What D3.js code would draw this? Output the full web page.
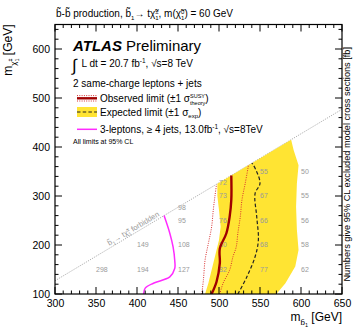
<!DOCTYPE html>
<html><head><meta charset="utf-8">
<script src="https://cdn.jsdelivr.net/npm/d3@7"></script>
<style>
body{margin:0;background:#fff}
svg{display:block}
text{font-family:"Liberation Sans",Arial,Helvetica,sans-serif;white-space:pre}
</style>
</head><body>
<svg id="chart" width="354" height="329"></svg>
<script>
// Axis ranges and ticks (GeV)
const xDomain = [300, 650];
const yDomain = [100, 650];
const xMajorTicks = [300, 350, 400, 450, 500, 550, 600, 650];
const yMajorTicks = [100, 200, 300, 400, 500, 600];

// Expected limit ±1σ band: left edge (bottom→top) then right edge (top→bottom)
const bandLeft = [[483,100],[487,122],[491,149],[495,176],[500,210],[502,237],[500,271],[498,300],[498,325]];
const bandRight = [[588,415],[591,394],[597,363],[595,326],[594,278],[595,231],[597,190],[593,156],[581,122],[570,100]];

// Observed limit and its ±1σ(theory) variations
const observed = [[491,100],[497,125],[501,163],[501,193],[509,224],[513,258],[515,292],[515,342]];
const observedDown = [[479,100],[481,129],[483,169],[487,203],[491,237],[493,271],[495,299],[497,324]];
const observedUp = [[501,100],[505,122],[513,149],[517,176],[521,196],[523,224],[526,258],[528,292],[532,326],[536,363]];

// Expected limit
const expected = [[523,100],[534,135],[544,176],[548,210],[546,258],[544,305],[550,326],[542,363],[540,367]];

// 3-leptons, >=4 jets analysis (13.0 fb-1)
const threeLep = [[408,100],[410,112],[420,122],[440,135],[446,152],[446,169],[444,196],[440,224],[433,260]];

// Excluded cross sections [fb] at signal grid points
const gridMb   = [350,400,400,450,450,450,450,500,500,500,500,500,550,550,550,550,550,600,600,600,600,600];
const gridMchi = [150,150,200,150,200,250,277,150,200,250,300,327,150,200,250,300,350,150,200,250,300,350];
const gridXsec = [298,194,149,127,108,95,98,82,80,76,73,72,77,68,66,67,55,62,58,56,55,50];

// Kinematic limit m(b1) = m(t) + m(chi+-)
const mTop = 173;

const svg = d3.select("#chart");
const M = {l:55, r:342, t:24.5, b:294};
const x = d3.scaleLinear().domain(xDomain).range([M.l, M.r]);
const y = d3.scaleLinear().domain(yDomain).range([M.b, M.t]);

svg.append("defs").append("clipPath").attr("id","plotclip")
  .append("rect").attr("x",M.l).attr("y",M.t).attr("width",M.r-M.l).attr("height",M.b-M.t);
const plot = svg.append("g").attr("clip-path","url(#plotclip)");

const line = d3.line().x(d=>x(d[0])).y(d=>y(d[1])).curve(d3.curveCatmullRom.alpha(0.5));

// kinematic boundary
plot.append("line")
  .attr("x1",x(300)).attr("y1",y(300-mTop)).attr("x2",x(650)).attr("y2",y(650-mTop))
  .attr("stroke","#999").attr("stroke-width",0.8).attr("stroke-dasharray","1.2,1.2");

// yellow band
const bandPoly = bandLeft.concat(bandRight);
plot.append("path")
  .attr("d", d3.line().x(d=>x(d[0])).y(d=>y(d[1])).curve(d3.curveLinearClosed)(bandPoly))
  .attr("fill","#ffe433").attr("stroke","none");

// cross-section numbers
plot.selectAll("text.xs").data(gridXsec).join("text")
  .attr("class","xs")
  .attr("x",(d,i)=>x(gridMb[i]))
  .attr("y",(d,i)=>y(gridMchi[i]))
  .attr("dy","0.35em")
  .style("font-size","7px").attr("fill","#9a9a9a")
  .text(d=>d);

// curves
plot.append("path").attr("d",line(threeLep)).attr("fill","none")
  .attr("stroke","#ff2bff").attr("stroke-width",1.5);
plot.append("path").attr("d",line(observedDown)).attr("fill","none")
  .attr("stroke","#d83030").attr("stroke-width",1).attr("stroke-dasharray","1,1.3");
plot.append("path").attr("d",line(observedUp)).attr("fill","none")
  .attr("stroke","#d83030").attr("stroke-width",1).attr("stroke-dasharray","1,1.3");
plot.append("path").attr("d",line(expected)).attr("fill","none")
  .attr("stroke","#222").attr("stroke-width",1.2).attr("stroke-dasharray","3.5,2.2");
plot.append("path").attr("d",line(observed)).attr("fill","none")
  .attr("stroke","#a00000").attr("stroke-width",2.4);

// Rich text helper: sequence of pieces; an array entry draws stacked pieces
function rich(g, items, baseSize){
  const grp = g.append("g");
  let cx = 0;
  items.forEach(it=>{
    const arr = Array.isArray(it) ? it : [it];
    let w = 0;
    arr.forEach(s=>{
      const t = grp.append("text").attr("x",cx).attr("y",s.dy||0)
        .style("font-size",(s.size||baseSize)+"px")
        .style("font-weight",s.bold?"bold":null).style("font-style",s.italic?"italic":null)
        .attr("fill",s.fill||"#000").text(s.t);
      w = Math.max(w, t.node().getComputedTextLength());
    });
    cx += w;
  });
  return {g:grp, w:cx};
}

// forbidden label along the diagonal
{
  const ang = Math.atan2(y(400-mTop)-y(350-mTop), x(400)-x(350))*180/Math.PI;
  const r = rich(svg, [
    {t:"b\u0303"},{t:"1",size:5,dy:2},{t:"\u2192 t\u03C7\u0303"},[{t:"\u00B1",size:5,dy:-3},{t:"1",size:5,dy:2}],{t:" forbidden"}
  ], 7.5);
  r.g.selectAll("text").attr("fill","#999");
  const px = x(397), py = y(397-mTop) - 2.5;
  r.g.attr("transform",`translate(${px},${py}) rotate(${ang}) translate(${-r.w/2},0)`);
}

// frame
svg.append("rect").attr("x",M.l).attr("y",M.t).attr("width",M.r-M.l).attr("height",M.b-M.t)
  .attr("fill","none").attr("stroke","#000").attr("stroke-width",1.2);

// ticks on all four sides
const xMinor = d3.range(300, 651, 10);
const yMinor = d3.range(100, 651, 20);
{
  const g = svg.append("g").attr("stroke","#000").attr("stroke-width",1);
  xMinor.forEach(v=>{
    const L = xMajorTicks.includes(v) ? 7 : 3.5;
    g.append("line").attr("x1",x(v)).attr("x2",x(v)).attr("y1",M.b).attr("y2",M.b-L);
    g.append("line").attr("x1",x(v)).attr("x2",x(v)).attr("y1",M.t).attr("y2",M.t+L);
  });
  yMinor.forEach(v=>{
    const L = yMajorTicks.includes(v) ? 7 : 3.5;
    g.append("line").attr("y1",y(v)).attr("y2",y(v)).attr("x1",M.l).attr("x2",M.l+L);
    g.append("line").attr("y1",y(v)).attr("y2",y(v)).attr("x1",M.r).attr("x2",M.r-L);
  });
}

// tick labels via d3 axes (lines hidden)
const xAxis = svg.append("g").attr("transform",`translate(0,${M.b})`)
  .call(d3.axisBottom(x).tickValues(xMajorTicks).tickSize(0).tickPadding(6).tickFormat(d3.format("d")));
xAxis.select(".domain").remove();
xAxis.selectAll("text").style("font-size","10.5px").attr("font-family",null);
const yAxis = svg.append("g").attr("transform",`translate(${M.l},0)`)
  .call(d3.axisLeft(y).tickValues(yMajorTicks).tickSize(0).tickPadding(5).tickFormat(d3.format("d")));
yAxis.select(".domain").remove();
yAxis.selectAll("text").style("font-size","10.5px").attr("font-family",null);

// axis titles
{
  const r = rich(svg, [{t:"m"},{t:"b\u0303",size:8,dy:4},{t:"1",size:5.5,dy:6},{t:" [GeV]"}], 12);
  r.g.attr("transform",`translate(${M.r - r.w},321)`);
}
{
  const r = rich(svg, [{t:"m"},{t:"\u03C7\u0303",size:8,dy:4},[{t:"\u00B1",size:5.5,dy:0},{t:"1",size:5.5,dy:7}],{t:" [GeV]"}], 12);
  r.g.attr("transform",`translate(12,${M.t + r.w}) rotate(-90)`);
}
svg.append("text").attr("transform",`translate(350,${(M.t+M.b)/2 + 5}) rotate(-90)`)
  .attr("text-anchor","middle").style("font-size","9.2px")
  .text("Numbers give 95% CL excluded model cross sections [fb]");

// title
{
  const r = rich(svg, [
    {t:"b\u0303-b\u0303 production, b\u0303"},{t:"1",size:6,dy:2.5},{t:"\u2192 t\u03C7\u0303"},
    [{t:"\u00B1",size:6,dy:-3.5},{t:"1",size:6,dy:2.5}],{t:", m(\u03C7\u0303"},
    [{t:"0",size:6,dy:-3.5},{t:"1",size:6,dy:2.5}],{t:") = 60 GeV"}
  ], 10);
  r.g.attr("transform","translate(56,17)");
}

// legend
{
  const r1 = rich(svg, [{t:"ATLAS",bold:true,italic:true},{t:" Preliminary"}], 15);
  r1.g.attr("transform","translate(73,50.5)");
  svg.append("text").attr("x",72).attr("y",71).style("font-size","17px").text("\u222B");
  const r2 = rich(svg, [{t:"L dt = 20.7 fb"},{t:"-1",size:6.5,dy:-4},{t:", \u221As=8 TeV"}], 10);
  r2.g.attr("transform","translate(81.5,67)");
  svg.append("text").attr("x",73).attr("y",86.5).style("font-size","10px").text("2 same-charge leptons + jets");

  // observed symbol
  const ly = 98.3;
  svg.append("line").attr("x1",77).attr("x2",97).attr("y1",ly-2.7).attr("y2",ly-2.7)
    .attr("stroke","#d83030").attr("stroke-width",1).attr("stroke-dasharray","1,1.3");
  svg.append("line").attr("x1",77).attr("x2",97).attr("y1",ly+2.7).attr("y2",ly+2.7)
    .attr("stroke","#d83030").attr("stroke-width",1).attr("stroke-dasharray","1,1.3");
  svg.append("line").attr("x1",77).attr("x2",97).attr("y1",ly).attr("y2",ly)
    .attr("stroke","#a00000").attr("stroke-width",2.4);
  const r3 = rich(svg, [{t:"Observed limit (\u00B11 \u03C3"},
    [{t:"SUSY",size:5.5,dy:-3.5},{t:"theory",size:5.5,dy:3}],{t:")"}], 10);
  r3.g.attr("transform",`translate(100,${ly+3.5})`);

  // expected symbol
  const ey = 112;
  svg.append("rect").attr("x",77).attr("y",ey-5).attr("width",20).attr("height",10).attr("fill","#ffe433");
  svg.append("line").attr("x1",77).attr("x2",97).attr("y1",ey).attr("y2",ey)
    .attr("stroke","#222").attr("stroke-width",1.2).attr("stroke-dasharray","3.5,2.2");
  const r4 = rich(svg, [{t:"Expected limit (\u00B11 \u03C3"},{t:"exp",size:6,dy:2.5},{t:")"}], 10);
  r4.g.attr("transform",`translate(100,${ey+3.5})`);

  // 3-lepton symbol
  const my = 129.3;
  svg.append("line").attr("x1",77).attr("x2",97).attr("y1",my).attr("y2",my)
    .attr("stroke","#ff2bff").attr("stroke-width",1.5);
  const r5 = rich(svg, [{t:"3-leptons, \u2265 4 jets, 13.0fb"},{t:"-1",size:6.5,dy:-4},{t:", \u221As=8TeV"}], 10);
  r5.g.attr("transform",`translate(100,${my+3.5})`);

  svg.append("text").attr("x",73).attr("y",144).style("font-size","7px").text("All limits at 95% CL");
}
</script>
</body></html>
